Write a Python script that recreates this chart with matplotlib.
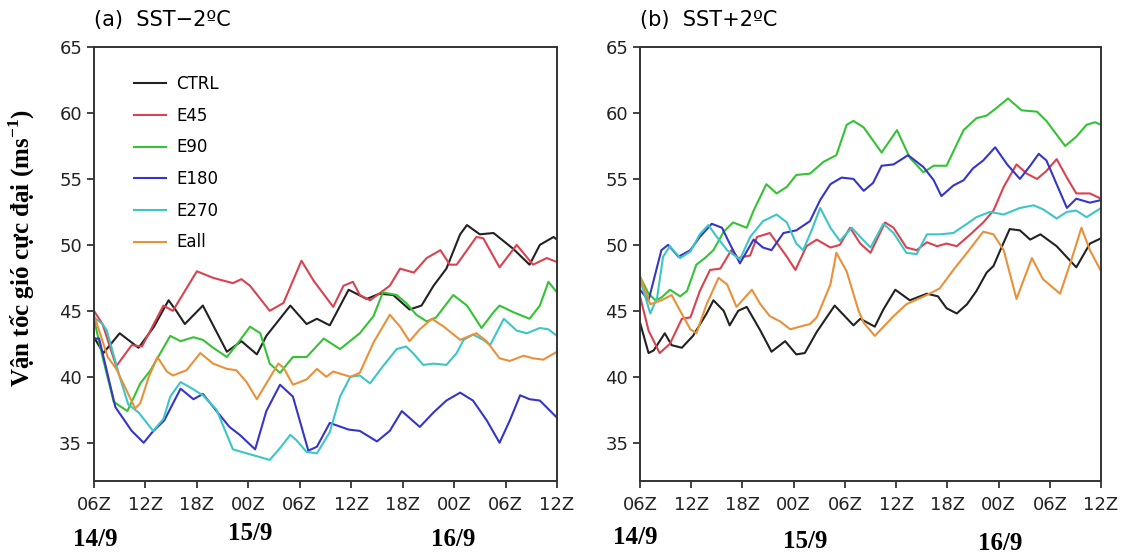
import matplotlib
matplotlib.use('Agg')
import matplotlib.pyplot as plt

# Hours since 06Z 14/9
# ---- (a) SST-2C ----
a_ctrl_h = [0, 1.1, 3.0, 5.2, 7.0, 8.7, 9.6, 10.6, 12.7, 15.5, 17.2, 19.0, 20.1, 22.9, 24.8, 26.0, 27.5, 29.7, 31.8, 33.3, 34.9, 36.8, 38.2, 39.6, 41.1, 42.7, 43.5, 45.0, 46.6, 48.9, 50.8, 52.0, 53.6, 54]
a_ctrl_v = [43.0, 41.8, 43.3, 42.2, 43.8, 45.8, 45.0, 44.0, 45.4, 41.9, 42.7, 41.7, 43.1, 45.4, 44.0, 44.4, 43.9, 46.6, 45.9, 46.3, 46.2, 45.1, 45.4, 46.9, 48.2, 50.8, 51.5, 50.8, 50.9, 49.7, 48.5, 50.0, 50.6, 50.4]

a_e45_h = [0, 1.0, 2.6, 4.4, 5.6, 8.1, 9.2, 12.0, 13.9, 16.2, 17.2, 18.2, 20.5, 22.1, 24.2, 25.6, 27.9, 29.1, 30.2, 31.0, 32.2, 34.5, 35.7, 37.3, 38.8, 40.4, 41.5, 42.3, 44.6, 45.4, 47.3, 49.3, 51.2, 52.8, 54]
a_e45_v = [45.0, 44.0, 40.8, 42.4, 42.3, 45.4, 45.0, 48.0, 47.5, 47.1, 47.4, 46.9, 45.0, 45.6, 48.8, 47.3, 45.3, 46.9, 47.2, 46.2, 45.8, 46.9, 48.2, 47.9, 49.0, 49.6, 48.5, 48.5, 50.6, 50.5, 48.3, 50.0, 48.5, 49.0, 48.7]

a_e90_h = [0, 1.0, 2.3, 3.9, 5.4, 6.6, 8.9, 10.1, 11.6, 12.7, 13.9, 15.5, 16.6, 18.2, 19.4, 20.5, 21.7, 23.2, 24.8, 26.8, 28.7, 31.0, 32.6, 33.7, 35.3, 36.4, 37.6, 38.8, 39.9, 41.9, 43.5, 45.2, 46.6, 47.3, 48.9, 50.8, 52.0, 53.0, 54]
a_e90_v = [44.4, 41.5, 38.1, 37.4, 39.5, 40.5, 43.1, 42.7, 43.0, 42.8, 42.2, 41.5, 42.4, 43.8, 43.3, 41.0, 40.3, 41.5, 41.5, 42.9, 42.1, 43.3, 44.6, 46.4, 46.2, 45.6, 44.7, 44.2, 44.5, 46.2, 45.4, 43.7, 44.9, 45.4, 44.9, 44.4, 45.4, 47.2, 46.4]

a_e180_h = [0, 0.6, 2.5, 4.4, 5.8, 6.8, 8.2, 10.1, 11.6, 12.7, 14.3, 15.8, 17.0, 18.8, 20.1, 21.7, 23.2, 25.0, 26.0, 27.5, 29.7, 31.0, 33.0, 34.5, 35.9, 38.0, 39.6, 41.1, 42.7, 44.2, 45.8, 47.3, 48.5, 49.7, 50.8, 52.0, 54]
a_e180_v = [42.9, 42.9, 37.7, 35.9, 35.0, 35.8, 36.7, 39.1, 38.3, 38.7, 37.4, 36.2, 35.6, 34.5, 37.4, 39.4, 38.5, 34.4, 34.7, 36.5, 36.0, 35.9, 35.1, 35.9, 37.4, 36.2, 37.3, 38.2, 38.8, 38.2, 36.7, 35.0, 36.7, 38.6, 38.3, 38.2, 36.9]

a_e270_h = [0, 1.0, 1.5, 3.0, 4.0, 5.2, 6.9, 8.1, 8.9, 10.1, 11.2, 12.7, 14.3, 16.2, 17.8, 20.5, 21.7, 22.9, 23.6, 24.8, 26.0, 27.5, 28.7, 29.9, 31.0, 32.2, 33.7, 35.3, 36.4, 37.2, 38.4, 39.6, 41.1, 42.3, 43.1, 44.2, 45.4, 46.2, 47.8, 49.3, 50.5, 52.0, 53.0, 54]
a_e270_v = [44.5, 44.0, 43.5, 40.0, 37.9, 37.3, 35.9, 36.8, 38.5, 39.6, 39.2, 38.6, 37.5, 34.5, 34.2, 33.7, 34.6, 35.6, 35.2, 34.3, 34.2, 35.8, 38.5, 40.0, 40.1, 39.5, 40.8, 42.1, 42.3, 41.8, 40.9, 41.0, 40.9, 41.8, 42.8, 43.2, 42.8, 42.4, 44.4, 43.5, 43.3, 43.7, 43.6, 43.1]

a_eall_h = [0, 1.6, 2.6, 4.0, 4.8, 5.4, 6.4, 7.4, 8.5, 9.2, 10.8, 12.4, 13.9, 15.5, 16.6, 17.8, 19.0, 20.1, 21.5, 22.1, 23.2, 24.8, 26.0, 27.1, 27.9, 29.9, 31.0, 32.6, 34.5, 35.7, 36.8, 38.0, 39.4, 40.8, 42.7, 44.6, 45.8, 47.3, 48.5, 50.1, 51.2, 52.4, 54]
a_eall_v = [44.7, 41.5, 40.6, 38.7, 37.6, 38.0, 40.0, 41.5, 40.4, 40.1, 40.5, 41.8, 41.0, 40.6, 40.5, 39.6, 38.3, 39.5, 41.0, 40.7, 39.4, 39.8, 40.6, 40.0, 40.4, 40.0, 40.3, 42.6, 44.7, 43.8, 42.7, 43.6, 44.4, 43.8, 42.8, 43.3, 42.7, 41.4, 41.2, 41.6, 41.4, 41.3, 41.9]

# ---- (b) SST+2C ----
b_ctrl_h = [0, 1.0, 1.6, 2.9, 3.7, 4.9, 6.2, 7.8, 8.6, 9.8, 10.5, 11.5, 12.5, 14.1, 15.4, 17.0, 18.3, 19.3, 20.7, 22.8, 25.0, 25.8, 27.5, 28.5, 29.9, 31.6, 33.6, 34.9, 35.9, 37.1, 38.3, 39.4, 40.6, 41.4, 42.2, 43.3, 44.5, 45.7, 46.9, 48.8, 51.1, 52.7, 54]
b_ctrl_v = [44.1, 41.8, 42.0, 43.3, 42.4, 42.2, 43.1, 44.8, 45.8, 45.0, 43.9, 45.0, 45.3, 43.5, 41.9, 42.7, 41.7, 41.8, 43.4, 45.4, 43.9, 44.4, 43.8, 45.1, 46.6, 45.8, 46.3, 46.1, 45.2, 44.8, 45.5, 46.5, 47.9, 48.4, 49.6, 51.2, 51.1, 50.4, 50.8, 49.9, 48.3, 50.1, 50.5]

b_e45_h = [0, 1.0, 2.3, 3.5, 4.9, 5.9, 7.0, 8.2, 9.4, 10.7, 11.5, 12.9, 13.7, 15.2, 17.2, 18.2, 19.5, 20.7, 22.3, 23.4, 24.6, 25.8, 27.0, 28.7, 29.7, 31.2, 32.4, 33.6, 34.8, 35.9, 37.1, 38.7, 40.2, 41.4, 42.6, 44.1, 45.3, 46.5, 47.6, 48.8, 50.0, 51.1, 52.7, 54]
b_e45_v = [46.1, 43.5, 41.8, 42.5, 44.4, 44.5, 46.5, 48.1, 48.2, 49.6, 49.0, 49.2, 50.6, 50.9, 49.1, 48.1, 49.9, 50.4, 49.8, 50.0, 51.3, 50.1, 49.4, 51.7, 51.3, 49.8, 49.6, 50.2, 49.9, 50.1, 49.9, 50.8, 51.7, 52.6, 54.4, 56.1, 55.4, 55.0, 55.6, 56.5, 55.1, 53.9, 53.9, 53.5]

b_e90_h = [0, 1.0, 1.8, 2.5, 3.5, 4.7, 5.5, 6.6, 7.6, 8.6, 9.8, 10.9, 12.5, 13.3, 14.8, 16.0, 17.2, 18.3, 19.9, 21.5, 23.0, 24.2, 25.0, 26.2, 28.3, 30.1, 31.6, 33.2, 34.4, 35.9, 37.9, 39.4, 40.6, 41.8, 43.1, 44.7, 46.5, 47.6, 48.4, 49.8, 51.1, 52.3, 53.3, 54]
b_e90_v = [47.6, 46.3, 45.8, 46.0, 46.6, 46.1, 46.5, 48.5, 49.0, 49.6, 51.0, 51.7, 51.3, 52.6, 54.6, 53.9, 54.4, 55.3, 55.4, 56.3, 56.8, 59.1, 59.4, 58.9, 57.0, 58.7, 56.6, 55.5, 56.0, 56.0, 58.7, 59.6, 59.8, 60.4, 61.1, 60.2, 60.1, 59.4, 58.7, 57.5, 58.2, 59.1, 59.3, 59.1]

b_e180_h = [0, 1.0, 2.5, 3.3, 4.5, 5.9, 7.0, 8.4, 9.6, 10.5, 11.7, 13.3, 14.4, 15.4, 16.8, 18.3, 19.9, 21.1, 22.3, 23.6, 25.0, 26.2, 27.3, 28.3, 29.7, 31.4, 33.2, 34.4, 35.3, 36.7, 37.9, 39.0, 40.2, 41.6, 43.0, 44.5, 45.7, 46.7, 47.6, 48.8, 50.0, 51.1, 52.7, 54]
b_e180_v = [46.6, 45.8, 49.6, 50.0, 49.1, 49.6, 50.6, 51.6, 51.3, 50.1, 48.6, 50.4, 49.8, 49.6, 50.9, 51.1, 51.8, 53.4, 54.6, 55.1, 55.0, 54.1, 54.7, 56.0, 56.1, 56.8, 55.9, 54.9, 53.7, 54.5, 54.9, 55.8, 56.4, 57.4, 56.1, 55.0, 56.0, 56.9, 56.4, 54.6, 52.8, 53.5, 53.2, 53.4]

b_e270_h = [0, 1.2, 2.0, 2.7, 3.5, 4.7, 5.9, 7.0, 8.0, 9.0, 10.2, 11.7, 12.9, 14.4, 16.0, 17.2, 18.3, 19.1, 20.1, 21.1, 22.3, 23.4, 24.8, 25.8, 27.0, 28.5, 29.7, 31.2, 32.4, 33.6, 35.1, 36.7, 38.3, 39.4, 41.0, 42.6, 44.5, 46.1, 47.2, 48.8, 50.0, 51.1, 52.3, 54]
b_e270_v = [47.4, 44.8, 46.0, 49.1, 49.9, 49.0, 49.5, 50.8, 51.5, 50.6, 49.6, 48.9, 50.6, 51.8, 52.3, 51.7, 50.1, 49.6, 51.1, 52.8, 51.3, 50.3, 51.3, 50.6, 49.8, 51.6, 50.9, 49.4, 49.3, 50.8, 50.8, 50.9, 51.6, 52.1, 52.5, 52.3, 52.8, 53.0, 52.7, 52.0, 52.5, 52.6, 52.1, 52.8]

b_eall_h = [0, 1.2, 2.5, 3.7, 4.7, 5.9, 6.6, 7.8, 9.2, 10.2, 11.3, 13.1, 14.1, 15.2, 16.4, 17.6, 18.7, 19.9, 20.7, 22.3, 23.0, 24.2, 25.6, 26.2, 27.5, 29.7, 31.2, 33.6, 35.1, 36.7, 38.3, 40.2, 41.4, 42.6, 44.1, 45.9, 47.2, 49.2, 50.4, 51.7, 52.7, 54]
b_eall_v = [47.6, 45.5, 45.8, 46.2, 45.0, 43.6, 43.3, 45.5, 47.5, 47.0, 45.3, 46.6, 45.5, 44.6, 44.2, 43.6, 43.8, 44.0, 44.5, 47.0, 49.4, 48.0, 45.0, 44.1, 43.1, 44.6, 45.5, 46.2, 46.7, 48.1, 49.4, 51.0, 50.8, 49.6, 45.9, 49.0, 47.4, 46.3, 48.6, 51.3, 49.6, 48.0]

labels = ['CTRL', 'E45', 'E90', 'E180', 'E270', 'Eall']
colors = ['#222222', '#d9434f', '#35c235', '#3535c8', '#3cc6c6', '#e8913a']
tick_hours = [0, 6, 12, 18, 24, 30, 36, 42, 48, 54]
tick_labels = ['06Z', '12Z', '18Z', '00Z', '06Z', '12Z', '18Z', '00Z', '06Z', '12Z']
y_ticks = [35, 40, 45, 50, 55, 60, 65]
date_labels = ['14/9', '15/9', '16/9']

plt.rcParams['font.family'] = ['DejaVu Sans']
plt.rcParams['mathtext.fontset'] = 'custom'
plt.rcParams['mathtext.rm'] = 'Liberation Serif'
plt.rcParams['mathtext.bf'] = 'Liberation Serif:bold'

fig = plt.figure(figsize=(11.28, 5.55), dpi=100)
ax1 = fig.add_axes([0.0833, 0.1333, 0.4105, 0.782])
ax2 = fig.add_axes([0.5674, 0.1333, 0.4087, 0.782])

panel_a = [(a_ctrl_h, a_ctrl_v), (a_e45_h, a_e45_v), (a_e90_h, a_e90_v),
           (a_e180_h, a_e180_v), (a_e270_h, a_e270_v), (a_eall_h, a_eall_v)]
panel_b = [(b_ctrl_h, b_ctrl_v), (b_e45_h, b_e45_v), (b_e90_h, b_e90_v),
           (b_e180_h, b_e180_v), (b_e270_h, b_e270_v), (b_eall_h, b_eall_v)]

for ax, series, title in [(ax1, panel_a, '(a)  SST\u22122\u00baC'), (ax2, panel_b, '(b)  SST+2\u00baC')]:
    for (h, v), lab, c in zip(series, labels, colors):
        ax.plot(h, v, color=c, lw=1.5, label=lab, solid_joinstyle='round')
    ax.set_xlim(0, 54)
    ax.set_ylim(32.1, 65)
    ax.set_xticks(tick_hours)
    ax.set_xticklabels(tick_labels)
    ax.set_yticks(y_ticks)
    ax.tick_params(axis='both', direction='out', length=5, width=1.2, labelsize=13, colors='#222222')
    ax.tick_params(axis='x', pad=6)
    for s in ax.spines.values():
        s.set_linewidth(1.4)
        s.set_color('#333333')
    ax.text(0.0, 1.062, title, transform=ax.transAxes, fontsize=15, va='center', ha='left')

ax1.legend(loc='upper left', bbox_to_anchor=(0.055, 0.97), frameon=False, fontsize=12,
           handlelength=1.9, handletextpad=0.6, labelspacing=0.82)

# date labels under the time axis
date_font = dict(family='Liberation Serif', weight='bold', fontsize=18, ha='center', va='center')
for x, y, t in zip([95, 250, 453], [540, 533, 540], date_labels):
    fig.text(x / 1128, 1 - y / 555, t, **date_font)
for x, y, t in zip([635, 805, 1000], [538, 541, 543], date_labels):
    fig.text(x / 1128, 1 - y / 555, t, **date_font)

fig.text(22 / 1128, 1 - 248 / 555, 'V\u1eadn t\u1ed1c gi\u00f3 c\u1ef1c \u0111\u1ea1i (ms$^{\\mathbf{-1}}$)',
         rotation=90, family='Liberation Serif', weight='bold', fontsize=18, ha='center', va='center')

fig.savefig('out.png', dpi=100)
